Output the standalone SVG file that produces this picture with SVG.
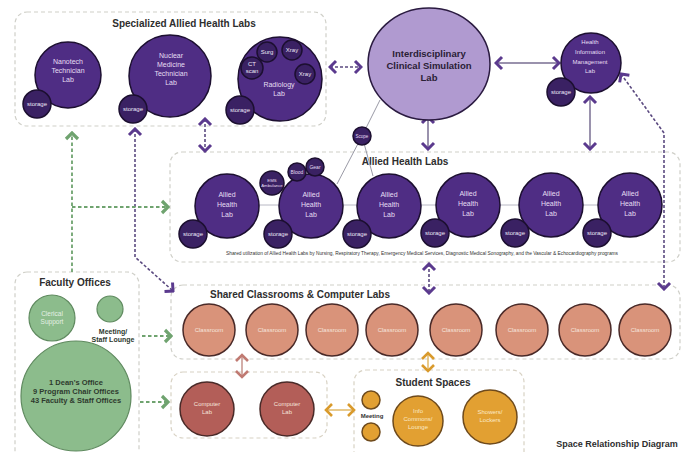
<svg xmlns="http://www.w3.org/2000/svg" width="690" height="452" viewBox="0 0 690 452">
<style>
text{font-family:"Liberation Sans",Arial,sans-serif;text-anchor:middle}
.box{fill:none;stroke:#cfcfc8;stroke-width:1.2;stroke-dasharray:4 3}
.title{font-weight:bold;font-size:10px;fill:#2e2e2e}
.pl{fill:#4f2d84;stroke:#1c0f30;stroke-width:1.5}
.st{fill:#3a2163;stroke:#1c0f30;stroke-width:1.5}
.pt{fill:#e6def3;font-size:7px}
.stt{fill:#ece6f5;font-size:6px}
.sm{fill:#e6def3;font-size:5px}
.gr{fill:#8cbc8c;stroke:#5f8a5f;stroke-width:1.2}
.gt{fill:#2e3a2e;font-size:7.5px;font-weight:bold}
.cl{fill:#d9937a;stroke:#4a2a28;stroke-width:1.5}
.clt{fill:#f6e4dc;font-size:6px}
.cp{fill:#b35e58;stroke:#4a2a28;stroke-width:1.5}
.yl{fill:#e2a032;stroke:#6e4a1c;stroke-width:1.5}
.ylt{fill:#fbe9c6;font-size:6px}
.dp{fill:none;stroke:#5b4a80;stroke-width:1.6;stroke-dasharray:3 2}
.sp{fill:none;stroke:#9a92ad;stroke-width:2}
.dg{fill:none;stroke:#6fa36f;stroke-width:1.8;stroke-dasharray:3.5 2.5}
</style>
<defs>
<marker id="mp" viewBox="-10 -8 12 16" refX="0" refY="0" markerWidth="12" markerHeight="16" orient="auto-start-reverse" markerUnits="userSpaceOnUse"><path d="M-6,-6 L0,0 L-6,6" fill="none" stroke="#5b3a8e" stroke-width="3"/></marker>
<marker id="mg" viewBox="-10 -8 12 16" refX="0" refY="0" markerWidth="12" markerHeight="16" orient="auto-start-reverse" markerUnits="userSpaceOnUse"><path d="M-6,-6 L0,0 L-6,6" fill="none" stroke="#6fa36f" stroke-width="3.2"/></marker>
<marker id="mr" viewBox="-10 -8 12 16" refX="0" refY="0" markerWidth="12" markerHeight="16" orient="auto-start-reverse" markerUnits="userSpaceOnUse"><path d="M-6,-6 L0,0 L-6,6" fill="none" stroke="#c07a72" stroke-width="2.6"/></marker>
<marker id="my" viewBox="-10 -8 12 16" refX="0" refY="0" markerWidth="12" markerHeight="16" orient="auto-start-reverse" markerUnits="userSpaceOnUse"><path d="M-6,-6 L0,0 L-6,6" fill="none" stroke="#d99a2c" stroke-width="2.6"/></marker>
</defs>
<rect width="690" height="452" fill="#ffffff"/>

<g id="section-boxes">
<rect class="box" x="15" y="12" width="311" height="114" rx="12"/>
<rect class="box" x="170" y="152" width="510" height="110" rx="12"/>
<rect class="box" x="171" y="285" width="509" height="74" rx="12"/>
<rect class="box" x="15" y="272" width="124" height="200" rx="12"/>
<rect class="box" x="171" y="372" width="156" height="66" rx="12" style="stroke:#d8d2c4"/>
<rect class="box" x="354" y="370" width="170" height="100" rx="12" style="stroke:#d8d2c4"/>
<text class="title" x="184" y="27">Specialized Allied Health Labs</text>
<text class="title" x="405" y="165">Allied Health Labs</text>
<text class="title" x="300" y="298">Shared Classrooms &amp; Computer Labs</text>
<text class="title" x="75" y="286">Faculty Offices</text>
<text class="title" x="433" y="386">Student Spaces</text>
<text class="title" x="617" y="447" style="font-size:9px">Space Relationship Diagram</text>
</g>

<g id="connectors">
<line class="dp" x1="330" y1="67" x2="361" y2="67" marker-start="url(#mp)" marker-end="url(#mp)"/>
<line class="sp" x1="496" y1="63" x2="559" y2="63" marker-start="url(#mp)" marker-end="url(#mp)"/>
<line class="sp" x1="428" y1="117" x2="428" y2="149" marker-start="url(#mp)" marker-end="url(#mp)"/>
<line class="sp" x1="590" y1="97" x2="590" y2="149" marker-start="url(#mp)" marker-end="url(#mp)"/>
<polyline class="dp" points="621,74 664,133 664,289" marker-start="url(#mp)" marker-end="url(#mp)"/>
<line class="dp" x1="205" y1="119" x2="205" y2="151" marker-start="url(#mp)" marker-end="url(#mp)"/>
<line class="dp" x1="429" y1="264" x2="429" y2="293" marker-start="url(#mp)" marker-end="url(#mp)"/>
<polyline class="dp" points="135,129 135,257 173,291" marker-start="url(#mp)" marker-end="url(#mp)"/>
<line class="dg" x1="72" y1="272" x2="72" y2="133" marker-end="url(#mg)"/>
<line class="dg" x1="72" y1="207" x2="168" y2="207" marker-end="url(#mg)"/>
<line class="dg" x1="142" y1="336" x2="171" y2="336" marker-end="url(#mg)"/>
<line class="dg" x1="140" y1="402" x2="168" y2="402" marker-end="url(#mg)"/>
<line x1="242" y1="355" x2="242" y2="377" stroke="#c99a94" stroke-width="1.6" marker-start="url(#mr)" marker-end="url(#mr)"/>
<line x1="428" y1="353" x2="428" y2="371" stroke="#e3bd70" stroke-width="1.6" marker-start="url(#my)" marker-end="url(#my)"/>
<line x1="326" y1="410" x2="354" y2="410" stroke="#e3bd70" stroke-width="1.6" marker-start="url(#my)" marker-end="url(#my)"/>
<line x1="227" y1="205" x2="630" y2="205" stroke="#b8b8c4" stroke-width="1"/>
<line x1="362" y1="136" x2="380" y2="100" stroke="#9a9aa6" stroke-width="1"/>
<line x1="362" y1="136" x2="337" y2="184" stroke="#9a9aa6" stroke-width="1"/>
<line x1="362" y1="136" x2="373" y2="176" stroke="#9a9aa6" stroke-width="1"/>
</g>

<g id="nanotech-lab">
<circle class="pl" cx="68" cy="75" r="33"/>
<text class="pt" x="68" y="64">Nanotech</text><text class="pt" x="68" y="73">Technician</text><text class="pt" x="68" y="82">Lab</text>
<circle class="st" cx="37" cy="104" r="14"/><text class="stt" x="37" y="106">storage</text>
</g>
<g id="nuclear-medicine-lab">
<circle class="pl" cx="170" cy="76" r="41"/>
<text class="pt" x="171" y="58">Nuclear</text><text class="pt" x="171" y="67">Medicine</text><text class="pt" x="171" y="76">Technician</text><text class="pt" x="171" y="85">Lab</text>
<circle class="st" cx="133" cy="109" r="14"/><text class="stt" x="133" y="111">storage</text>
</g>
<g id="radiology-lab">
<circle class="pl" cx="280" cy="79" r="42"/>
<text class="pt" x="279" y="87">Radiology</text><text class="pt" x="279" y="96">Lab</text>
<circle class="st" cx="267" cy="52" r="10"/><text class="stt" x="267" y="54">Surg</text>
<circle class="st" cx="292" cy="50" r="10"/><text class="stt" x="292" y="52">Xray</text>
<circle class="st" cx="252" cy="68" r="11"/><text class="stt" x="252" y="66">CT</text><text class="stt" x="252" y="73">scan</text>
<circle class="st" cx="305" cy="74" r="10"/><text class="stt" x="305" y="76">Xray</text>
<circle class="st" cx="240" cy="110" r="14"/><text class="stt" x="240" y="112">storage</text>
</g>
<g id="simulation-lab">
<ellipse cx="429" cy="64" rx="61" ry="56" fill="#b09ad0" stroke="#2a1a40" stroke-width="1.5"/>
<text x="429" y="57" style="font-size:9.5px;font-weight:bold;fill:#2a2035">Interdisciplinary</text>
<text x="429" y="69" style="font-size:9.5px;font-weight:bold;fill:#2a2035">Clinical Simulation</text>
<text x="429" y="81" style="font-size:9.5px;font-weight:bold;fill:#2a2035">Lab</text>
</g>
<g id="him-lab">
<circle class="pl" cx="591" cy="63" r="30"/>
<text class="sm" x="590" y="44" style="font-size:6px">Health</text><text class="sm" x="590" y="54" style="font-size:6px">Information</text><text class="sm" x="590" y="64" style="font-size:6px">Management</text><text class="sm" x="590" y="73" style="font-size:6px">Lab</text>
<circle class="st" cx="561" cy="92" r="14"/><text class="stt" x="561" y="94">storage</text>
</g>
<g id="scope">
<circle class="st" cx="362" cy="136" r="9"/><text class="sm" x="362" y="138" style="font-size:4.5px">Scope</text>
</g>

<g id="allied-lab-1">
<circle class="pl" cx="227" cy="206" r="32"/>
<text class="pt" x="227" y="197">Allied</text><text class="pt" x="227" y="207">Health</text><text class="pt" x="227" y="217">Lab</text>
<circle class="st" cx="193" cy="234" r="14"/><text class="stt" x="193" y="236">storage</text>
</g>
<g id="allied-lab-2">
<circle class="pl" cx="311" cy="206" r="32"/>
<text class="pt" x="311" y="197">Allied</text><text class="pt" x="311" y="207">Health</text><text class="pt" x="311" y="217">Lab</text>
<circle class="st" cx="272" cy="183" r="12"/><text class="sm" x="272" y="182" style="font-size:4.3px">EMS</text><text class="sm" x="272" y="187" style="font-size:4.3px">Ambulance</text>
<circle class="st" cx="297" cy="172" r="9"/><text class="sm" x="297" y="174">Blood</text>
<circle class="st" cx="315" cy="167" r="9"/><text class="sm" x="315" y="169">Gear</text>
<circle class="st" cx="278" cy="234" r="14"/><text class="stt" x="278" y="236">storage</text>
</g>
<g id="allied-lab-3">
<circle class="pl" cx="389" cy="206" r="32"/>
<text class="pt" x="389" y="197">Allied</text><text class="pt" x="389" y="207">Health</text><text class="pt" x="389" y="217">Lab</text>
<circle class="st" cx="357" cy="234" r="14"/><text class="stt" x="357" y="236">storage</text>
</g>
<g id="allied-lab-4">
<circle class="pl" cx="468" cy="205" r="32"/>
<text class="pt" x="468" y="196">Allied</text><text class="pt" x="468" y="206">Health</text><text class="pt" x="468" y="216">Lab</text>
<circle class="st" cx="435" cy="233" r="14"/><text class="stt" x="435" y="235">storage</text>
</g>
<g id="allied-lab-5">
<circle class="pl" cx="551" cy="205" r="32"/>
<text class="pt" x="551" y="196">Allied</text><text class="pt" x="551" y="206">Health</text><text class="pt" x="551" y="216">Lab</text>
<circle class="st" cx="515" cy="233" r="14"/><text class="stt" x="515" y="235">storage</text>
</g>
<g id="allied-lab-6">
<circle class="pl" cx="630" cy="205" r="32"/>
<text class="pt" x="630" y="196">Allied</text><text class="pt" x="630" y="206">Health</text><text class="pt" x="630" y="216">Lab</text>
<circle class="st" cx="597" cy="233" r="14"/><text class="stt" x="597" y="235">storage</text>
</g>
<text x="422" y="255" style="font-size:4.6px;fill:#333" textLength="392" lengthAdjust="spacingAndGlyphs">Shared utilization of Allied Health Labs by Nursing, Respiratory Therapy, Emergency Medical Services, Diagnostic Medical Sonography, and the Vascular &amp; Echocardiography programs</text>

<g id="classroom-1"><circle class="cl" cx="209" cy="330" r="26"/><text class="clt" x="209" y="332">Classroom</text></g>
<g id="classroom-2"><circle class="cl" cx="272" cy="330" r="26"/><text class="clt" x="272" y="332">Classroom</text></g>
<g id="classroom-3"><circle class="cl" cx="332" cy="330" r="26"/><text class="clt" x="332" y="332">Classroom</text></g>
<g id="classroom-4"><circle class="cl" cx="392" cy="330" r="26"/><text class="clt" x="392" y="332">Classroom</text></g>
<g id="classroom-5"><circle class="cl" cx="456" cy="330" r="26"/><text class="clt" x="456" y="332">Classroom</text></g>
<g id="classroom-6"><circle class="cl" cx="522" cy="330" r="26"/><text class="clt" x="522" y="332">Classroom</text></g>
<g id="classroom-7"><circle class="cl" cx="585" cy="330" r="26"/><text class="clt" x="585" y="332">Classroom</text></g>
<g id="classroom-8"><circle class="cl" cx="645" cy="330" r="26"/><text class="clt" x="645" y="332">Classroom</text></g>

<g id="computer-lab-1"><circle class="cp" cx="207" cy="409" r="27"/><text class="clt" x="207" y="406">Computer</text><text class="clt" x="207" y="414">Lab</text></g>
<g id="computer-lab-2"><circle class="cp" cx="287" cy="409" r="27"/><text class="clt" x="287" y="406">Computer</text><text class="clt" x="287" y="414">Lab</text></g>

<g id="meeting">
<circle class="yl" cx="371" cy="400" r="9"/><circle class="yl" cx="371" cy="432" r="9"/>
<text x="372" y="418" style="font-size:6px;font-weight:bold;fill:#333">Meeting</text>
</g>
<g id="info-commons"><circle class="yl" cx="418" cy="421" r="25"/><text class="ylt" x="418" y="413">Info</text><text class="ylt" x="418" y="421">Commons/</text><text class="ylt" x="418" y="429">Lounge</text></g>
<g id="showers"><circle class="yl" cx="490" cy="417" r="27"/><text class="ylt" x="490" y="414">Showers/</text><text class="ylt" x="490" y="422">Lockers</text></g>

<g id="clerical-support"><circle class="gr" cx="52" cy="318" r="23"/><text x="52" y="316" style="font-size:6.5px;fill:#e4f0e4">Clerical</text><text x="52" y="324" style="font-size:6.5px;fill:#e4f0e4">Support</text></g>
<g id="meeting-lounge"><circle class="gr" cx="110" cy="309" r="13"/><text class="gt" x="113" y="334" style="font-size:7px">Meeting/</text><text class="gt" x="113" y="342" style="font-size:7px">Staff Lounge</text></g>
<g id="offices"><circle class="gr" cx="76" cy="396" r="55"/><text class="gt" x="76" y="385">1 Dean's Office</text><text class="gt" x="76" y="394">9 Program Chair Offices</text><text class="gt" x="76" y="403">43 Faculty &amp; Staff Offices</text></g>
</svg>
